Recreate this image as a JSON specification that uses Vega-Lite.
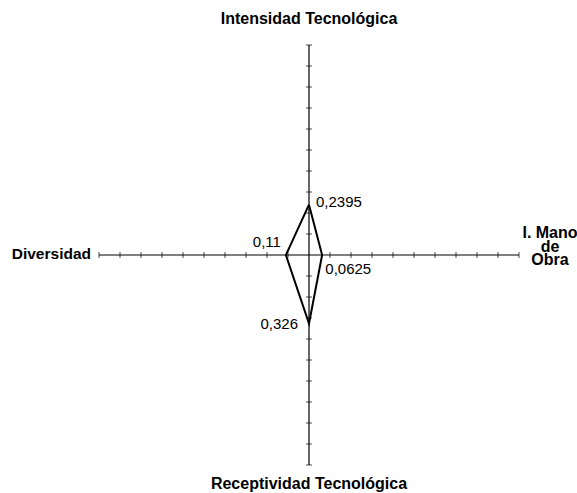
{
  "$schema": "https://vega.github.io/schema/vega-lite/v6.json",
  "width": 420,
  "height": 420,
  "autosize": "none",
  "padding": {"left": 99, "top": 45, "right": 58, "bottom": 28},
  "background": "white",
  "config": {"view": {"stroke": null}, "font": "Liberation Sans"},
  "datasets": {
    "ticks": [
      {"t": -1}, {"t": -0.9}, {"t": -0.8}, {"t": -0.7}, {"t": -0.6}, {"t": -0.5}, {"t": -0.4}, {"t": -0.3}, {"t": -0.2}, {"t": -0.1},
      {"t": 0.1}, {"t": 0.2}, {"t": 0.3}, {"t": 0.4}, {"t": 0.5}, {"t": 0.6}, {"t": 0.7}, {"t": 0.8}, {"t": 0.9}, {"t": 1}
    ],
    "axes": [
      {"x1": -1, "y1": 0, "x2": 1, "y2": 0},
      {"x1": 0, "y1": -1, "x2": 0, "y2": 1}
    ],
    "shape": [
      {"o": 1, "dim": "Intensidad Tecnológica", "x": 0, "y": 0.2395, "label": "0,2395"},
      {"o": 2, "dim": "I. Mano de Obra", "x": 0.0625, "y": 0, "label": "0,0625"},
      {"o": 3, "dim": "Receptividad Tecnológica", "x": 0, "y": -0.326, "label": "0,326"},
      {"o": 4, "dim": "Diversidad", "x": -0.11, "y": 0, "label": "0,11"},
      {"o": 5, "dim": "Intensidad Tecnológica", "x": 0, "y": 0.2395, "label": ""}
    ],
    "titles": [
      {"dim": "Intensidad Tecnológica", "x": 0, "y": 1, "text": ["Intensidad Tecnológica"]},
      {"dim": "Receptividad Tecnológica", "x": 0, "y": -1, "text": ["Receptividad Tecnológica"]},
      {"dim": "Diversidad", "x": -1, "y": 0, "text": ["Diversidad"]},
      {"dim": "I. Mano de Obra", "x": 1, "y": 0, "text": ["I. Mano", "de", "Obra"]}
    ]
  },
  "layer": [
    {
      "data": {"name": "axes"},
      "mark": {"type": "rule", "color": "black", "strokeWidth": 1.2},
      "encoding": {
        "x": {"field": "x1", "type": "quantitative", "scale": {"domain": [-1, 1], "nice": false, "zero": false}, "axis": null},
        "x2": {"field": "x2"},
        "y": {"field": "y1", "type": "quantitative", "scale": {"domain": [-1, 1], "nice": false, "zero": false}, "axis": null},
        "y2": {"field": "y2"}
      }
    },
    {
      "data": {"name": "ticks"},
      "mark": {"type": "tick", "orient": "vertical", "color": "black", "size": 6, "thickness": 1},
      "encoding": {
        "x": {"field": "t", "type": "quantitative"},
        "y": {"datum": 0, "type": "quantitative"}
      }
    },
    {
      "data": {"name": "ticks"},
      "mark": {"type": "tick", "orient": "horizontal", "color": "black", "size": 6, "thickness": 1},
      "encoding": {
        "y": {"field": "t", "type": "quantitative"},
        "x": {"datum": 0, "type": "quantitative"}
      }
    },
    {
      "data": {"name": "shape"},
      "mark": {"type": "line", "color": "black", "strokeWidth": 2, "strokeJoin": "miter"},
      "encoding": {
        "x": {"field": "x", "type": "quantitative"},
        "y": {"field": "y", "type": "quantitative"},
        "order": {"field": "o", "type": "quantitative"}
      }
    },
    {
      "data": {"name": "shape"},
      "transform": [{"filter": "datum.o == 1"}],
      "mark": {"type": "text", "align": "left", "baseline": "alphabetic", "dx": 7, "dy": 2.6, "fontSize": 15, "color": "black"},
      "encoding": {"x": {"field": "x", "type": "quantitative"}, "y": {"field": "y", "type": "quantitative"}, "text": {"field": "label"}}
    },
    {
      "data": {"name": "shape"},
      "transform": [{"filter": "datum.o == 2"}],
      "mark": {"type": "text", "align": "left", "baseline": "alphabetic", "dx": 3.2, "dy": 19.3, "fontSize": 15, "color": "black"},
      "encoding": {"x": {"field": "x", "type": "quantitative"}, "y": {"field": "y", "type": "quantitative"}, "text": {"field": "label"}}
    },
    {
      "data": {"name": "shape"},
      "transform": [{"filter": "datum.o == 3"}],
      "mark": {"type": "text", "align": "right", "baseline": "alphabetic", "dx": -11, "dy": 6, "fontSize": 15, "color": "black"},
      "encoding": {"x": {"field": "x", "type": "quantitative"}, "y": {"field": "y", "type": "quantitative"}, "text": {"field": "label"}}
    },
    {
      "data": {"name": "shape"},
      "transform": [{"filter": "datum.o == 4"}],
      "mark": {"type": "text", "align": "right", "baseline": "alphabetic", "dx": -5, "dy": -7.7, "fontSize": 15, "color": "black"},
      "encoding": {"x": {"field": "x", "type": "quantitative"}, "y": {"field": "y", "type": "quantitative"}, "text": {"field": "label"}}
    },
    {
      "data": {"name": "titles"},
      "transform": [{"filter": "datum.y == 1"}],
      "mark": {"type": "text", "align": "center", "baseline": "alphabetic", "dy": -21.3, "fontSize": 16, "fontWeight": "bold", "color": "black"},
      "encoding": {"x": {"field": "x", "type": "quantitative"}, "y": {"field": "y", "type": "quantitative"}, "text": {"field": "text"}}
    },
    {
      "data": {"name": "titles"},
      "transform": [{"filter": "datum.y == -1"}],
      "mark": {"type": "text", "align": "center", "baseline": "alphabetic", "dy": 23.5, "fontSize": 16, "fontWeight": "bold", "color": "black"},
      "encoding": {"x": {"field": "x", "type": "quantitative"}, "y": {"field": "y", "type": "quantitative"}, "text": {"field": "text"}}
    },
    {
      "data": {"name": "titles"},
      "transform": [{"filter": "datum.x == -1"}],
      "mark": {"type": "text", "align": "right", "baseline": "alphabetic", "dx": -8, "dy": 4, "fontSize": 15.5, "fontWeight": "bold", "color": "black"},
      "encoding": {"x": {"field": "x", "type": "quantitative"}, "y": {"field": "y", "type": "quantitative"}, "text": {"field": "text"}}
    },
    {
      "data": {"name": "titles"},
      "transform": [{"filter": "datum.x == 1"}],
      "mark": {"type": "text", "align": "center", "baseline": "alphabetic", "dx": 31, "dy": -16.7, "lineHeight": 13.4, "fontSize": 16, "fontWeight": "bold", "color": "black"},
      "encoding": {"x": {"field": "x", "type": "quantitative"}, "y": {"field": "y", "type": "quantitative"}, "text": {"field": "text"}}
    }
  ]
}
